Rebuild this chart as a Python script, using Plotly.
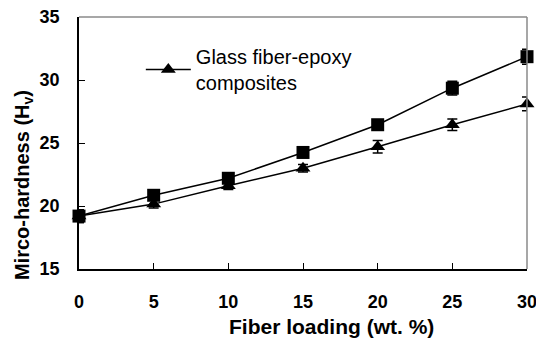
import plotly.graph_objects as go

fiber_loading = [0, 5, 10, 15, 20, 25, 30]
hardness_square = [19.2, 20.85, 22.2, 24.25, 26.45, 29.35, 31.85]
err_square = [0.5, 0.35, 0.4, 0.4, 0.4, 0.55, 0.6]
hardness_triangle = [19.2, 20.15, 21.6, 23.0, 24.7, 26.45, 28.1]
err_triangle = [0.5, 0.3, 0.3, 0.3, 0.5, 0.45, 0.55]

x_ticks = [0, 5, 10, 15, 20, 25, 30]
y_ticks = [15, 20, 25, 30, 35]

x_title = "<b>Fiber loading (wt. %)</b>"
y_title = "<b>Mirco-hardness (H<sub>v</sub>)</b>"
legend_label = "Glass fiber-epoxy<br>composites"

fig = go.Figure()
fig.add_trace(go.Scatter(
    x=fiber_loading, y=hardness_square, mode="lines+markers",
    line=dict(color="black", width=1.5),
    marker=dict(symbol="square", size=13, color="black"),
    error_y=dict(type="data", array=err_square, color="black", thickness=1.5, width=5),
    showlegend=False, cliponaxis=False,
))
fig.add_trace(go.Scatter(
    x=fiber_loading, y=hardness_triangle, mode="lines+markers",
    name=legend_label,
    line=dict(color="black", width=1.5),
    marker=dict(symbol="triangle-up", size=13, color="black"),
    error_y=dict(type="data", array=err_triangle, color="black", thickness=1.5, width=5),
    cliponaxis=False,
))

font_family = "Liberation Sans, Arial, sans-serif"
fig.update_layout(
    width=544, height=343,
    margin=dict(l=71, r=25, t=9, b=82),
    plot_bgcolor="white", paper_bgcolor="white",
    font=dict(family=font_family, color="black"),
    legend=dict(x=0.138, y=0.921, xanchor="left", yanchor="top",
                itemwidth=45,
                font=dict(size=20, family=font_family, color="black"),
                bgcolor="rgba(0,0,0,0)", tracegroupgap=0),
    xaxis=dict(
        range=[0, 30], tickvals=x_ticks, ticks="inside", ticklen=6,
        tickcolor="black", showline=True, linecolor="black", linewidth=1.5,
        showgrid=False, zeroline=False, automargin=False,
        ticklabelstandoff=16, ticklabeloverflow="allow",
        tickfont=dict(size=18, family=font_family, weight="bold"),
    ),
    yaxis=dict(
        range=[15, 35], tickvals=y_ticks, ticks="inside", ticklen=6,
        tickcolor="black", showline=True, linecolor="black", linewidth=1.5,
        showgrid=False, zeroline=False, automargin=False,
        ticklabelstandoff=14, ticklabeloverflow="allow",
        tickfont=dict(size=18, family=font_family, weight="bold"),
    ),
    annotations=[
        dict(text=x_title, xref="paper", yref="paper", x=0.5625, y=-0.230,
             xanchor="center", yanchor="middle", showarrow=False,
             font=dict(size=21, family=font_family, color="black")),
        dict(text=y_title, xref="paper", yref="paper", x=-0.125, y=0.333,
             xanchor="center", yanchor="middle", showarrow=False, textangle=-90,
             font=dict(size=20, family=font_family, color="black")),
    ],
    shapes=[
        dict(type="line", xref="paper", yref="paper", x0=0, x1=1, y0=1, y1=1,
             line=dict(color="#8a8a8a", width=1.5)),
        dict(type="line", xref="paper", yref="paper", x0=1, x1=1, y0=0, y1=1,
             line=dict(color="#8a8a8a", width=1.5)),
    ],
)

fig.write_html("out.html")
